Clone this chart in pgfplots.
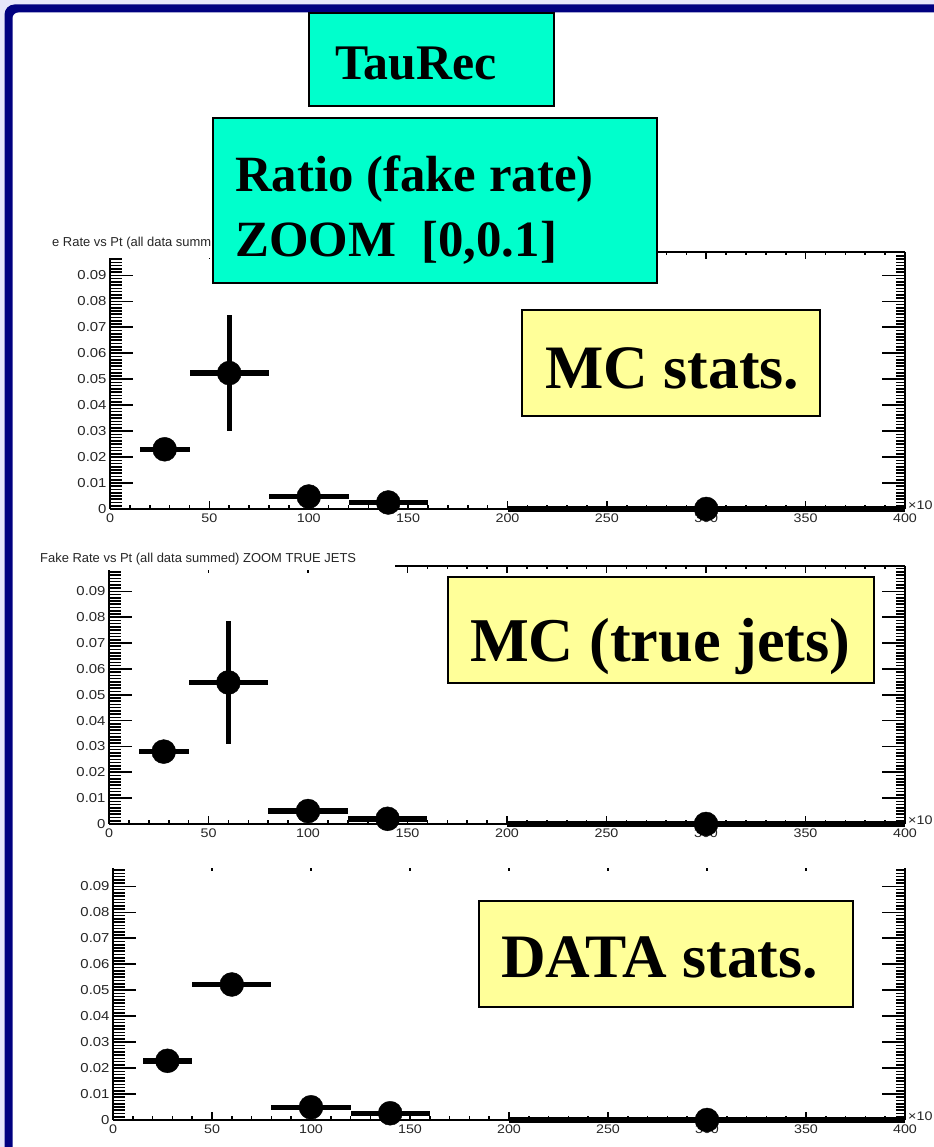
\documentclass[border=0pt]{standalone}
\usepackage{pgfplots}
\pgfplotsset{compat=1.18}
\usepackage{pgfplotstable}
\usepackage{fontspec}
\setmainfont{Liberation Serif}
\newfontfamily\tickfont[FakeStretch=1.15]{Liberation Sans}
\newfontfamily\titlefont{Liberation Sans}
\definecolor{lav}{RGB}{230,230,250}
\definecolor{navyb}{RGB}{0,0,128}
\definecolor{cyanbox}{RGB}{0,255,204}
\definecolor{yellowbox}{RGB}{255,255,153}

\pgfplotstableread{
x y ex ey
27.5 0.0230 12.5 0.0009
60 0.05235 20 0.0222
100 0.0048 20 0.0008
140 0.0025 20 0.0005
300 0 100 0
}\mcstats

\pgfplotstableread{
x y ex ey
27.5 0.0280 12.5 0.0010
60 0.05475 20 0.0239
100 0.0050 20 0.0012
140 0.0020 20 0.0006
300 0 100 0
}\mctrue

\pgfplotstableread{
x y ex ey
27.5 0.0228 12.5 0
60 0.0522 20 0
100 0.0049 20 0
140 0.0026 20 0
300 0 100 0
}\datastats

\pgfplotsset{
  common/.style={scale only axis, xmin=0, xmax=400, ymin=0,
    axis line style={line width=2.5bp, black},
    every tick/.style={black, line width=1.6bp},
    tick align=inside, clip=false, scaled y ticks=false, scaled x ticks=false},
  geo/.style n args={5}{at={(#1bp,#2bp)}, anchor=south west, width=#3, height=#4, ymax=#5},
  bottomax/.style={common, axis x line*=bottom, axis y line=none, ytick=\empty,
    xtick={0,50,100,150,200,250,300,350,400},
    xticklabels={0,50,100,150,200,250,300,350,400},
    minor xtick={0,10,...,400},
    major tick length=8bp, minor tick length=4bp,
    xticklabel style={font=\tickfont\fontsize{12.5}{12.5}\selectfont, text=black!85, yshift=-1bp}},
  topax/.style={common, axis x line*=top, axis y line=none, ytick=\empty,
    xtick={0,50,...,400}, minor xtick={0,10,...,400}, xticklabels={},
    major tick length=7.5bp, minor tick length=3.5bp},
  leftax/.style={common, axis y line*=left, axis x line=none, xtick=\empty,
    ytick={0,0.01,0.02,0.03,0.04,0.05,0.06,0.07,0.08,0.09},
    yticklabels={0,0.01,0.02,0.03,0.04,0.05,0.06,0.07,0.08,0.09},
    minor ytick={0,0.00125,...,0.0985},
    major tick length=23bp, minor tick length=12bp,
    yticklabel style={font=\tickfont\fontsize{13}{13}\selectfont, text=black!85}},
  rightax/.style={common, axis y line*=right, axis x line=none, xtick=\empty,
    ytick={0,0.01,0.02,0.03,0.04,0.05,0.06,0.07,0.08,0.09}, yticklabels={},
    minor ytick={0,0.00125,...,0.0985},
    major tick length=23bp, minor tick length=9bp},
  dataax/.style={common, hide axis},
}

\newcommand{\drawpanel}[6]{%
  \begin{axis}[bottomax, geo={#1}{#2}{#3}{#4}{#5}]
    \node[anchor=west, inner sep=0pt, xshift=3bp, yshift=4bp,
      font=\tickfont\fontsize{12.5}{12.5}\selectfont, text=black!85] at (axis cs:400,0) {×10};
  \end{axis}
  \begin{axis}[topax, geo={#1}{#2}{#3}{#4}{#5}]
  \end{axis}
  \begin{axis}[leftax, geo={#1}{#2}{#3}{#4}{#5}]
  \end{axis}
  \begin{axis}[rightax, geo={#1}{#2}{#3}{#4}{#5}]
  \end{axis}
  \begin{axis}[dataax, geo={#1}{#2}{#3}{#4}{#5}]
    \addplot[black, only marks, mark=*, mark size=12bp,
      mark options={fill=black, draw=black},
      error bars/.cd, x dir=both, x explicit, y dir=both, y explicit,
      error mark=none, error bar style={line width=5.5bp, black}]
      table[x=x, y=y, x error=ex, y error=ey]{#6};
  \end{axis}%
}

\begin{document}
\begin{tikzpicture}[x=1bp, y=1bp]
\useasboundingbox (0,0) rectangle (934,1147);
\clip (0,0) rectangle (934,1147);
% background and frame
\fill[lav] (0,0) rectangle (934,1147);
\fill[navyb, rounded corners=10bp] (4.5,-60) rectangle (1000,1142.5);
\fill[white, rounded corners=6bp] (12.5,-60) rectangle (1000,1134.5);

% panels
\drawpanel{110}{638}{795bp}{257bp}{0.099}{\mcstats}
\drawpanel{109}{323}{796bp}{258bp}{0.0998}{\mctrue}
\drawpanel{113}{27}{792bp}{257bp}{0.099}{\datastats}

% partially hidden top frames
\fill[white] (100,909) rectangle (213,889);
\fill[white] (100,607) rectangle (395,576.5);
\fill[white] (100,297) rectangle (912,278.5);

% histogram titles
\node[anchor=base west, inner sep=0pt, font=\titlefont\fontsize{13}{13}\selectfont, text=black!85]
  at (52,900) {e Rate vs Pt (all data summ};
\node[anchor=base west, inner sep=0pt, font=\titlefont\fontsize{13}{13}\selectfont, text=black!85]
  at (40,584) {Fake Rate vs Pt (all data summed) ZOOM TRUE JETS};

% boxes
\draw[line width=2.5bp, fill=cyanbox] (309,1041) rectangle (554,1134);
\node[anchor=base west, inner sep=0pt, font=\bfseries\fontsize{50}{50}\selectfont] at (335,1067) {TauRec};

\draw[line width=2.5bp, fill=cyanbox] (213,864) rectangle (657,1029);
\node[anchor=base west, inner sep=0pt, font=\bfseries\fontsize{51}{51}\selectfont] at (235,955) {Ratio (fake rate)};
\node[anchor=base west, inner sep=0pt, font=\bfseries\fontsize{51}{51}\selectfont] at (235,890) {ZOOM\hspace{0.25em} [0,0.1]};

\draw[line width=2.2bp, fill=yellowbox] (522,731) rectangle (820,837);
\node[anchor=base west, inner sep=0pt, font=\bfseries\fontsize{62}{62}\selectfont] at (545,758) {MC stats.};

\draw[line width=2.2bp, fill=yellowbox] (448,464) rectangle (874,570);
\node[anchor=base west, inner sep=0pt, font=\bfseries\fontsize{62.5}{62.5}\selectfont] at (470,485) {MC (true jets)};

\draw[line width=2.2bp, fill=yellowbox] (479,140) rectangle (853,246);
\node[anchor=base west, inner sep=0pt, font=\bfseries\fontsize{62}{62}\selectfont] at (501,169) {DATA stats.};
\end{tikzpicture}
\end{document}
